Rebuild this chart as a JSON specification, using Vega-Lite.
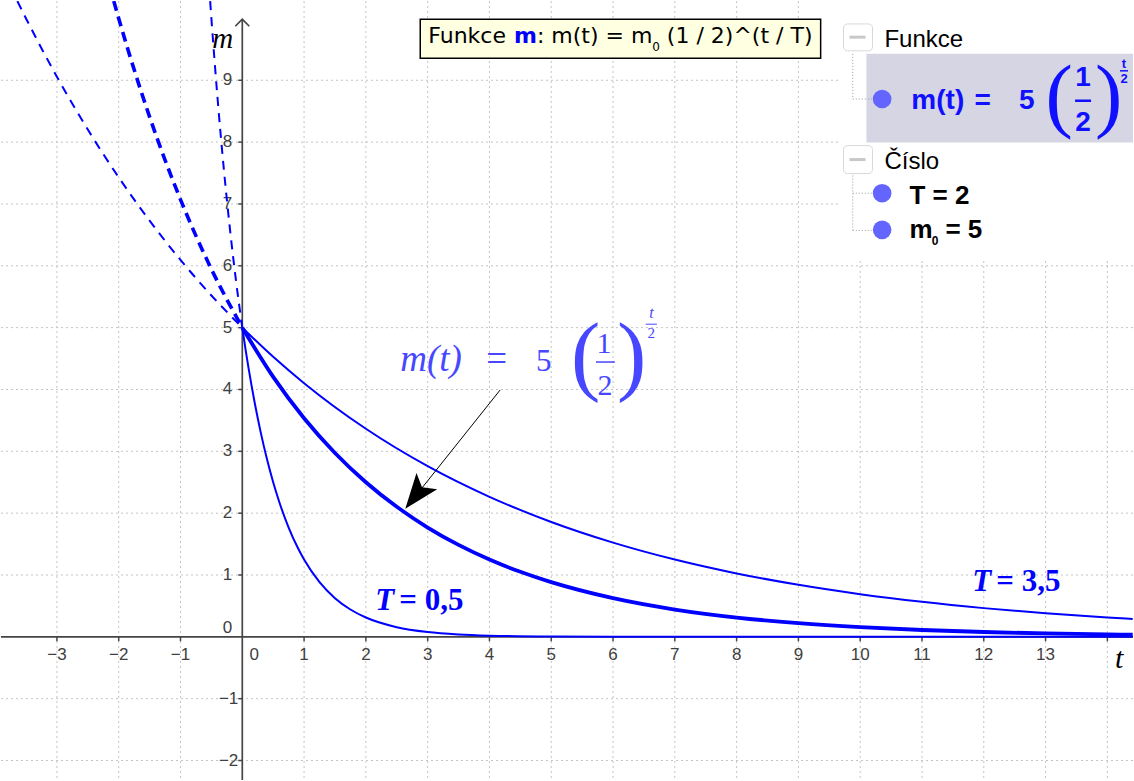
{
  "$schema": "https://vega.github.io/schema/vega-lite/v6.json",
  "width": 1134,
  "height": 781,
  "padding": 0,
  "autosize": {"type": "fit", "contains": "padding"},
  "background": "white",
  "config": {"view": {"stroke": null}, "axis": {"disable": true}, "legend": {"disable": true}},
  "datasets": {
    "curves": [
      {"T": 0.5, "seg": "solid", "t": 0, "m": 5},
      {"T": 0.5, "seg": "solid", "t": 0.05, "m": 4.6652},
      {"T": 0.5, "seg": "solid", "t": 0.1, "m": 4.3528},
      {"T": 0.5, "seg": "solid", "t": 0.15, "m": 4.0613},
      {"T": 0.5, "seg": "solid", "t": 0.2, "m": 3.7893},
      {"T": 0.5, "seg": "solid", "t": 0.3, "m": 3.2988},
      {"T": 0.5, "seg": "solid", "t": 0.4, "m": 2.8717},
      {"T": 0.5, "seg": "solid", "t": 0.5, "m": 2.5},
      {"T": 0.5, "seg": "solid", "t": 0.6, "m": 2.1764},
      {"T": 0.5, "seg": "solid", "t": 0.75, "m": 1.7678},
      {"T": 0.5, "seg": "solid", "t": 0.9, "m": 1.4359},
      {"T": 0.5, "seg": "solid", "t": 1, "m": 1.25},
      {"T": 0.5, "seg": "solid", "t": 1.25, "m": 0.8839},
      {"T": 0.5, "seg": "solid", "t": 1.5, "m": 0.625},
      {"T": 0.5, "seg": "solid", "t": 1.75, "m": 0.4419},
      {"T": 0.5, "seg": "solid", "t": 2, "m": 0.3125},
      {"T": 0.5, "seg": "solid", "t": 2.5, "m": 0.1563},
      {"T": 0.5, "seg": "solid", "t": 3, "m": 0.0781},
      {"T": 0.5, "seg": "solid", "t": 3.5, "m": 0.0391},
      {"T": 0.5, "seg": "solid", "t": 4, "m": 0.0195},
      {"T": 0.5, "seg": "solid", "t": 5, "m": 0.0049},
      {"T": 0.5, "seg": "solid", "t": 6, "m": 0.0012},
      {"T": 0.5, "seg": "solid", "t": 8, "m": 0.0001},
      {"T": 0.5, "seg": "solid", "t": 14.41, "m": 0},
      {"T": 0.5, "seg": "dash", "t": 0, "m": 5},
      {"T": 0.5, "seg": "dash", "t": -0.1, "m": 5.7435},
      {"T": 0.5, "seg": "dash", "t": -0.2, "m": 6.5975},
      {"T": 0.5, "seg": "dash", "t": -0.3, "m": 7.5786},
      {"T": 0.5, "seg": "dash", "t": -0.4, "m": 8.7055},
      {"T": 0.5, "seg": "dash", "t": -0.5, "m": 10},
      {"T": 0.5, "seg": "dash", "t": -0.52, "m": 10.28},
      {"T": 2, "seg": "solid", "t": 0, "m": 5},
      {"T": 2, "seg": "solid", "t": 0.5, "m": 4.2045},
      {"T": 2, "seg": "solid", "t": 1, "m": 3.5355},
      {"T": 2, "seg": "solid", "t": 1.5, "m": 2.973},
      {"T": 2, "seg": "solid", "t": 2, "m": 2.5},
      {"T": 2, "seg": "solid", "t": 2.5, "m": 2.1022},
      {"T": 2, "seg": "solid", "t": 3, "m": 1.7678},
      {"T": 2, "seg": "solid", "t": 3.5, "m": 1.4865},
      {"T": 2, "seg": "solid", "t": 4, "m": 1.25},
      {"T": 2, "seg": "solid", "t": 4.5, "m": 1.0511},
      {"T": 2, "seg": "solid", "t": 5, "m": 0.8839},
      {"T": 2, "seg": "solid", "t": 6, "m": 0.625},
      {"T": 2, "seg": "solid", "t": 7, "m": 0.4419},
      {"T": 2, "seg": "solid", "t": 8, "m": 0.3125},
      {"T": 2, "seg": "solid", "t": 9, "m": 0.221},
      {"T": 2, "seg": "solid", "t": 10, "m": 0.1563},
      {"T": 2, "seg": "solid", "t": 11, "m": 0.1105},
      {"T": 2, "seg": "solid", "t": 12, "m": 0.0781},
      {"T": 2, "seg": "solid", "t": 13, "m": 0.0552},
      {"T": 2, "seg": "solid", "t": 14, "m": 0.0391},
      {"T": 2, "seg": "solid", "t": 14.41, "m": 0.034},
      {"T": 2, "seg": "dash", "t": 0, "m": 5},
      {"T": 2, "seg": "dash", "t": -0.5, "m": 5.946},
      {"T": 2, "seg": "dash", "t": -1, "m": 7.0711},
      {"T": 2, "seg": "dash", "t": -1.5, "m": 8.409},
      {"T": 2, "seg": "dash", "t": -2, "m": 10},
      {"T": 2, "seg": "dash", "t": -2.08, "m": 10.28},
      {"T": 3.5, "seg": "solid", "t": 0, "m": 5},
      {"T": 3.5, "seg": "solid", "t": 0.5, "m": 4.5286},
      {"T": 3.5, "seg": "solid", "t": 1, "m": 4.1017},
      {"T": 3.5, "seg": "solid", "t": 2, "m": 3.3648},
      {"T": 3.5, "seg": "solid", "t": 3, "m": 2.7603},
      {"T": 3.5, "seg": "solid", "t": 4, "m": 2.2644},
      {"T": 3.5, "seg": "solid", "t": 5, "m": 1.8575},
      {"T": 3.5, "seg": "solid", "t": 6, "m": 1.5238},
      {"T": 3.5, "seg": "solid", "t": 7, "m": 1.25},
      {"T": 3.5, "seg": "solid", "t": 8, "m": 1.0254},
      {"T": 3.5, "seg": "solid", "t": 9, "m": 0.8412},
      {"T": 3.5, "seg": "solid", "t": 10, "m": 0.6901},
      {"T": 3.5, "seg": "solid", "t": 11, "m": 0.5661},
      {"T": 3.5, "seg": "solid", "t": 12, "m": 0.4644},
      {"T": 3.5, "seg": "solid", "t": 13, "m": 0.3809},
      {"T": 3.5, "seg": "solid", "t": 14, "m": 0.3125},
      {"T": 3.5, "seg": "solid", "t": 14.41, "m": 0.2884},
      {"T": 3.5, "seg": "dash", "t": 0, "m": 5},
      {"T": 3.5, "seg": "dash", "t": -0.5, "m": 5.5205},
      {"T": 3.5, "seg": "dash", "t": -1, "m": 6.095},
      {"T": 3.5, "seg": "dash", "t": -1.5, "m": 6.7295},
      {"T": 3.5, "seg": "dash", "t": -2, "m": 7.43},
      {"T": 3.5, "seg": "dash", "t": -2.5, "m": 8.2034},
      {"T": 3.5, "seg": "dash", "t": -3, "m": 9.0571},
      {"T": 3.5, "seg": "dash", "t": -3.5, "m": 10},
      {"T": 3.5, "seg": "dash", "t": -3.64, "m": 10.28}
    ],
    "xs": [
      {"v": -3, "lab": "−3"}, {"v": -2, "lab": "−2"}, {"v": -1, "lab": "−1"},
      {"v": 1, "lab": "1"}, {"v": 2, "lab": "2"}, {"v": 3, "lab": "3"}, {"v": 4, "lab": "4"},
      {"v": 5, "lab": "5"}, {"v": 6, "lab": "6"}, {"v": 7, "lab": "7"}, {"v": 8, "lab": "8"},
      {"v": 9, "lab": "9"}, {"v": 10, "lab": "10"}, {"v": 11, "lab": "11"}, {"v": 12, "lab": "12"},
      {"v": 13, "lab": "13"}, {"v": 14, "lab": ""}
    ],
    "ys": [
      {"v": -2, "lab": "−2"}, {"v": -1, "lab": "−1"}, {"v": 1, "lab": "1"}, {"v": 2, "lab": "2"},
      {"v": 3, "lab": "3"}, {"v": 4, "lab": "4"}, {"v": 5, "lab": "5"}, {"v": 6, "lab": "6"},
      {"v": 7, "lab": "7"}, {"v": 8, "lab": "8"}, {"v": 9, "lab": "9"}
    ]
  },
  "layer": [
    {
      "data": {"name": "xs"},
      "mark": {"type": "rule", "color": "#c4c4c4", "strokeWidth": 1, "strokeDash": [2, 3]},
      "encoding": {"x": {"field": "v", "type": "quantitative", "scale": {"domain": [-3.905, 14.415], "nice": false, "zero": false}}}
    },
    {
      "data": {"name": "ys"},
      "mark": {"type": "rule", "color": "#c4c4c4", "strokeWidth": 1, "strokeDash": [2, 3]},
      "encoding": {"y": {"field": "v", "type": "quantitative", "scale": {"domain": [-2.315, 10.282], "nice": false, "zero": false}}}
    },
    {
      "data": {"values": [{}]},
      "mark": {"type": "rule", "color": "#454545", "strokeWidth": 1.7},
      "encoding": {"y": {"datum": 0}}
    },
    {
      "data": {"values": [{}]},
      "mark": {"type": "rule", "color": "#454545", "strokeWidth": 1.7},
      "encoding": {"x": {"datum": 0}, "y": {"datum": -2.315}, "y2": {"datum": 9.987}}
    },
    {
      "data": {"values": [{}]},
      "mark": {"type": "point", "shape": "M-1,1L0,0L1,1", "size": 196, "filled": false, "color": "#454545", "strokeWidth": 1.7, "opacity": 1},
      "encoding": {"x": {"datum": 0}, "y": {"datum": 9.987}}
    },
    {
      "data": {"name": "xs"},
      "mark": {"type": "rule", "color": "#454545", "strokeWidth": 1.5},
      "encoding": {"x": {"field": "v", "type": "quantitative"}, "y": {"datum": 0}, "y2": {"datum": -0.07}}
    },
    {
      "data": {"name": "ys"},
      "mark": {"type": "rule", "color": "#454545", "strokeWidth": 1.5},
      "encoding": {"y": {"field": "v", "type": "quantitative"}, "x": {"datum": 0}, "x2": {"datum": -0.065}}
    },
    {
      "data": {"name": "xs"},
      "transform": [{"filter": "datum.lab != ''"}],
      "mark": {"type": "text", "font": "Liberation Sans", "fontSize": 17, "color": "#404040", "align": "center", "baseline": "alphabetic", "dy": 23},
      "encoding": {"x": {"field": "v", "type": "quantitative"}, "y": {"datum": 0}, "text": {"field": "lab"}}
    },
    {
      "data": {"name": "ys"},
      "transform": [{"filter": "datum.v > 0"}],
      "mark": {"type": "text", "font": "Liberation Sans", "fontSize": 17, "color": "#404040", "align": "right", "baseline": "middle", "dx": -10},
      "encoding": {"y": {"field": "v", "type": "quantitative"}, "x": {"datum": 0}, "text": {"field": "lab"}}
    },
    {
      "data": {"name": "ys"},
      "transform": [{"filter": "datum.v < 0"}],
      "mark": {"type": "text", "font": "Liberation Sans", "fontSize": 17, "color": "#404040", "align": "right", "baseline": "middle", "dx": -4},
      "encoding": {"y": {"field": "v", "type": "quantitative"}, "x": {"datum": 0}, "text": {"field": "lab"}}
    },
    {
      "data": {"values": [{}]},
      "mark": {"type": "text", "text": "0", "font": "Liberation Sans", "fontSize": 17, "color": "#404040", "align": "center", "baseline": "alphabetic", "dx": 12, "dy": 23},
      "encoding": {"x": {"datum": 0}, "y": {"datum": 0}}
    },
    {
      "data": {"values": [{}]},
      "mark": {"type": "text", "text": "0", "font": "Liberation Sans", "fontSize": 17, "color": "#404040", "align": "right", "baseline": "middle", "dx": -10, "dy": -9},
      "encoding": {"x": {"datum": 0}, "y": {"datum": 0}}
    },
    {
      "data": {"name": "curves"},
      "transform": [{"filter": "datum.seg == 'dash' && datum.T != 2"}],
      "mark": {"type": "line", "color": "#0000ff", "strokeWidth": 2, "strokeDash": [9, 7], "interpolate": "monotone", "clip": true},
      "encoding": {"x": {"field": "t", "type": "quantitative"}, "y": {"field": "m", "type": "quantitative"}, "detail": {"field": "T", "type": "nominal"}}
    },
    {
      "data": {"name": "curves"},
      "transform": [{"filter": "datum.seg == 'dash' && datum.T == 2"}],
      "mark": {"type": "line", "color": "#0000ff", "strokeWidth": 3.6, "strokeDash": [10, 6], "interpolate": "monotone", "clip": true},
      "encoding": {"x": {"field": "t", "type": "quantitative"}, "y": {"field": "m", "type": "quantitative"}, "detail": {"field": "T", "type": "nominal"}}
    },
    {
      "data": {"name": "curves"},
      "transform": [{"filter": "datum.seg == 'solid' && datum.T != 2"}],
      "mark": {"type": "line", "color": "#0000ff", "strokeWidth": 2, "interpolate": "monotone", "clip": true},
      "encoding": {"x": {"field": "t", "type": "quantitative"}, "y": {"field": "m", "type": "quantitative"}, "detail": {"field": "T", "type": "nominal"}}
    },
    {
      "data": {"name": "curves"},
      "transform": [{"filter": "datum.seg == 'solid' && datum.T == 2"}],
      "mark": {"type": "line", "color": "#0000ff", "strokeWidth": 3.8, "interpolate": "monotone", "clip": true},
      "encoding": {"x": {"field": "t", "type": "quantitative"}, "y": {"field": "m", "type": "quantitative"}, "detail": {"field": "T", "type": "nominal"}}
    },
    {
      "data": {"values": [{}]},
      "mark": {"type": "rule", "color": "#000000", "strokeWidth": 1},
      "encoding": {"x": {"datum": 4.173}, "y": {"datum": 3.992}, "x2": {"datum": 2.75}, "y2": {"datum": 2.21}}
    },
    {
      "data": {"values": [{}]},
      "mark": {"type": "point", "shape": "M0,0L0.75,2L0,1.55L-0.75,2Z", "size": 1225, "angle": 218, "filled": true, "color": "#000000", "opacity": 1, "strokeWidth": 0},
      "encoding": {"x": {"datum": 2.638}, "y": {"datum": 2.073}}
    },
    {
      "data": {"values": [{}]},
      "mark": {"type": "text", "text": "m(t)", "font": "Liberation Serif", "fontStyle": "italic", "fontSize": 37, "color": "#4747ff", "align": "left", "baseline": "alphabetic"},
      "encoding": {"x": {"datum": 2.557}, "y": {"datum": 4.298}}
    },
    {
      "data": {"values": [{}]},
      "mark": {"type": "text", "text": "=", "font": "Liberation Serif", "fontSize": 37, "color": "#4747ff", "align": "left", "baseline": "alphabetic"},
      "encoding": {"x": {"datum": 3.95}, "y": {"datum": 4.298}}
    },
    {
      "data": {"values": [{}]},
      "mark": {"type": "text", "text": "5", "font": "Liberation Serif", "fontSize": 31, "color": "#4747ff", "align": "left", "baseline": "alphabetic"},
      "encoding": {"x": {"datum": 4.754}, "y": {"datum": 4.298}}
    },
    {
      "data": {"values": [{}]},
      "mark": {"type": "text", "text": "(", "font": "Liberation Serif", "fontSize": 88, "color": "#4747ff", "align": "left", "baseline": "alphabetic"},
      "encoding": {"x": {"datum": 5.32}, "y": {"datum": 4.089}}
    },
    {
      "data": {"values": [{}]},
      "mark": {"type": "text", "text": ")", "font": "Liberation Serif", "fontSize": 88, "color": "#4747ff", "align": "left", "baseline": "alphabetic"},
      "encoding": {"x": {"datum": 6.063}, "y": {"datum": 4.089}}
    },
    {
      "data": {"values": [{}]},
      "mark": {"type": "text", "text": "1", "font": "Liberation Serif", "fontSize": 30, "color": "#4747ff", "align": "center", "baseline": "alphabetic"},
      "encoding": {"x": {"datum": 5.853}, "y": {"datum": 4.589}}
    },
    {
      "data": {"values": [{}]},
      "mark": {"type": "rule", "color": "#4747ff", "strokeWidth": 1.5},
      "encoding": {"x": {"datum": 5.724}, "x2": {"datum": 6.03}, "y": {"datum": 4.444}}
    },
    {
      "data": {"values": [{}]},
      "mark": {"type": "text", "text": "2", "font": "Liberation Serif", "fontSize": 30, "color": "#4747ff", "align": "center", "baseline": "alphabetic"},
      "encoding": {"x": {"datum": 5.869}, "y": {"datum": 3.911}}
    },
    {
      "data": {"values": [{}]},
      "mark": {"type": "text", "text": "t", "font": "Liberation Serif", "fontStyle": "italic", "fontSize": 16, "color": "#4747ff", "align": "center", "baseline": "alphabetic"},
      "encoding": {"x": {"datum": 6.62}, "y": {"datum": 5.153}}
    },
    {
      "data": {"values": [{}]},
      "mark": {"type": "rule", "color": "#4747ff", "strokeWidth": 1},
      "encoding": {"x": {"datum": 6.53}, "x2": {"datum": 6.71}, "y": {"datum": 5.056}}
    },
    {
      "data": {"values": [{}]},
      "mark": {"type": "text", "text": "2", "font": "Liberation Serif", "fontSize": 15, "color": "#4747ff", "align": "center", "baseline": "alphabetic"},
      "encoding": {"x": {"datum": 6.62}, "y": {"datum": 4.831}}
    },
    {
      "data": {"values": [{}]},
      "mark": {"type": "text", "text": "T", "font": "Liberation Serif", "fontStyle": "italic", "fontWeight": "bold", "fontSize": 31, "color": "#0000ff", "align": "left", "baseline": "alphabetic"},
      "encoding": {"x": {"datum": 2.152}, "y": {"datum": 0.427}}
    },
    {
      "data": {"values": [{}]},
      "mark": {"type": "text", "text": "= 0,5", "font": "Liberation Serif", "fontWeight": "bold", "fontSize": 31, "color": "#0000ff", "align": "left", "baseline": "alphabetic"},
      "encoding": {"x": {"datum": 2.541}, "y": {"datum": 0.427}}
    },
    {
      "data": {"values": [{}]},
      "mark": {"type": "text", "text": "T", "font": "Liberation Serif", "fontStyle": "italic", "fontWeight": "bold", "fontSize": 31, "color": "#0000ff", "align": "left", "baseline": "alphabetic"},
      "encoding": {"x": {"datum": 11.814}, "y": {"datum": 0.734}}
    },
    {
      "data": {"values": [{}]},
      "mark": {"type": "text", "text": "= 3,5", "font": "Liberation Serif", "fontWeight": "bold", "fontSize": 31, "color": "#0000ff", "align": "left", "baseline": "alphabetic"},
      "encoding": {"x": {"datum": 12.202}, "y": {"datum": 0.734}}
    },
    {
      "data": {"values": [{}]},
      "mark": {"type": "text", "text": "m", "font": "Liberation Serif", "fontStyle": "italic", "fontSize": 29, "color": "#000000", "align": "left", "baseline": "alphabetic", "dx": -30},
      "encoding": {"x": {"datum": 0}, "y": {"datum": 9.524}}
    },
    {
      "data": {"values": [{}]},
      "mark": {"type": "text", "text": "t", "font": "Liberation Serif", "fontStyle": "italic", "fontSize": 30, "color": "#000000", "align": "left", "baseline": "alphabetic"},
      "encoding": {"x": {"datum": 14.125}, "y": {"datum": -0.508}}
    },
    {
      "data": {"values": [{}]},
      "mark": {"type": "rect", "fill": "#ffffe1", "stroke": "#000000", "strokeWidth": 1.5},
      "encoding": {"x": {"datum": 2.88}, "x2": {"datum": 9.36}, "y": {"datum": 9.987}, "y2": {"datum": 9.358}}
    },
    {
      "data": {"values": [{}]},
      "mark": {"type": "text", "text": "Funkce", "font": "DejaVu Sans", "fontSize": 22, "color": "#000000", "align": "left", "baseline": "alphabetic"},
      "encoding": {"x": {"datum": 3.01}, "y": {"datum": 9.6}}
    },
    {
      "data": {"values": [{}]},
      "mark": {"type": "text", "text": "m", "font": "DejaVu Sans", "fontWeight": "bold", "fontSize": 22, "color": "#0000ff", "align": "left", "baseline": "alphabetic"},
      "encoding": {"x": {"datum": 4.397}, "y": {"datum": 9.6}}
    },
    {
      "data": {"values": [{}]},
      "mark": {"type": "text", "text": ": m(t) = m", "font": "DejaVu Sans", "fontSize": 22, "color": "#000000", "align": "left", "baseline": "alphabetic"},
      "encoding": {"x": {"datum": 4.768}, "y": {"datum": 9.6}}
    },
    {
      "data": {"values": [{}]},
      "mark": {"type": "text", "text": "0", "font": "DejaVu Sans", "fontSize": 12, "color": "#000000", "align": "left", "baseline": "alphabetic"},
      "encoding": {"x": {"datum": 6.634}, "y": {"datum": 9.48}}
    },
    {
      "data": {"values": [{}]},
      "mark": {"type": "text", "text": "(1 / 2)^(t / T)", "font": "DejaVu Sans", "fontSize": 22, "color": "#000000", "align": "left", "baseline": "alphabetic"},
      "encoding": {"x": {"datum": 6.871}, "y": {"datum": 9.6}}
    },
    {
      "data": {"values": [{}]},
      "mark": {"type": "rect", "fill": "#ffffff", "strokeWidth": 0},
      "encoding": {"x": {"datum": 9.666}, "x2": {"datum": 14.415}, "y": {"datum": 10.282}, "y2": {"datum": 6.12}}
    },
    {
      "data": {"values": [{}]},
      "mark": {"type": "rect", "fill": "#d5d5e3", "strokeWidth": 0},
      "encoding": {"x": {"datum": 10.101}, "x2": {"datum": 14.415}, "y": {"datum": 9.427}, "y2": {"datum": 7.992}}
    },
    {
      "data": {"values": [{}]},
      "mark": {"type": "rect", "fill": "#ffffff", "stroke": "#d8d8d8", "strokeWidth": 1, "cornerRadius": 4},
      "encoding": {"x": {"datum": 9.73}, "x2": {"datum": 10.199}, "y": {"datum": 9.911}, "y2": {"datum": 9.476}}
    },
    {
      "data": {"values": [{}]},
      "mark": {"type": "rule", "color": "#c8c8c8", "strokeWidth": 3},
      "encoding": {"x": {"datum": 9.827}, "x2": {"datum": 10.086}, "y": {"datum": 9.697}}
    },
    {
      "data": {"values": [{}]},
      "mark": {"type": "rect", "fill": "#ffffff", "stroke": "#d8d8d8", "strokeWidth": 1, "cornerRadius": 4},
      "encoding": {"x": {"datum": 9.73}, "x2": {"datum": 10.199}, "y": {"datum": 7.944}, "y2": {"datum": 7.492}}
    },
    {
      "data": {"values": [{}]},
      "mark": {"type": "rule", "color": "#c8c8c8", "strokeWidth": 3},
      "encoding": {"x": {"datum": 9.827}, "x2": {"datum": 10.086}, "y": {"datum": 7.718}}
    },
    {
      "data": {"values": [{}]},
      "mark": {"type": "text", "text": "Funkce", "font": "Liberation Sans", "fontSize": 24, "color": "#000000", "align": "left", "baseline": "alphabetic"},
      "encoding": {"x": {"datum": 10.392}, "y": {"datum": 9.54}}
    },
    {
      "data": {"values": [{}]},
      "mark": {"type": "text", "text": "Číslo", "font": "Liberation Sans", "fontSize": 24, "color": "#000000", "align": "left", "baseline": "alphabetic"},
      "encoding": {"x": {"datum": 10.392}, "y": {"datum": 7.573}}
    },
    {
      "data": {"values": [{}]},
      "mark": {"type": "rule", "color": "#9a9a9a", "strokeWidth": 1, "strokeDash": [1, 2]},
      "encoding": {"x": {"datum": 9.88}, "y": {"datum": 9.427}, "y2": {"datum": 8.697}}
    },
    {
      "data": {"values": [{}]},
      "mark": {"type": "rule", "color": "#9a9a9a", "strokeWidth": 1, "strokeDash": [1, 2]},
      "encoding": {"x": {"datum": 9.88}, "x2": {"datum": 10.199}, "y": {"datum": 8.697}}
    },
    {
      "data": {"values": [{}]},
      "mark": {"type": "rule", "color": "#9a9a9a", "strokeWidth": 1, "strokeDash": [1, 2]},
      "encoding": {"x": {"datum": 9.88}, "y": {"datum": 7.46}, "y2": {"datum": 6.573}}
    },
    {
      "data": {"values": [{}]},
      "mark": {"type": "rule", "color": "#9a9a9a", "strokeWidth": 1, "strokeDash": [1, 2]},
      "encoding": {"x": {"datum": 9.88}, "x2": {"datum": 10.199}, "y": {"datum": 7.174}}
    },
    {
      "data": {"values": [{}]},
      "mark": {"type": "rule", "color": "#9a9a9a", "strokeWidth": 1, "strokeDash": [1, 2]},
      "encoding": {"x": {"datum": 9.88}, "x2": {"datum": 10.199}, "y": {"datum": 6.573}}
    },
    {
      "data": {"values": [{"k": "a", "mm": 8.697}, {"k": "b", "mm": 7.174}, {"k": "c", "mm": 6.581}]},
      "mark": {"type": "point", "shape": "circle", "size": 346, "filled": true, "color": "#6464ff", "opacity": 1, "strokeWidth": 0},
      "encoding": {"x": {"datum": 10.355}, "y": {"field": "mm", "type": "quantitative"}}
    },
    {
      "data": {"values": [{}]},
      "mark": {"type": "text", "text": "m(t)", "font": "Liberation Sans", "fontWeight": "bold", "fontSize": 28, "color": "#1010ff", "align": "left", "baseline": "alphabetic"},
      "encoding": {"x": {"datum": 10.828}, "y": {"datum": 8.54}}
    },
    {
      "data": {"values": [{}]},
      "mark": {"type": "text", "text": "=", "font": "Liberation Sans", "fontWeight": "bold", "fontSize": 28, "color": "#1010ff", "align": "left", "baseline": "alphabetic"},
      "encoding": {"x": {"datum": 11.85}, "y": {"datum": 8.54}}
    },
    {
      "data": {"values": [{}]},
      "mark": {"type": "text", "text": "5", "font": "Liberation Sans", "fontWeight": "bold", "fontSize": 28, "color": "#1010ff", "align": "left", "baseline": "alphabetic"},
      "encoding": {"x": {"datum": 12.57}, "y": {"datum": 8.54}}
    },
    {
      "data": {"values": [{}]},
      "mark": {"type": "text", "text": "(", "font": "Liberation Serif", "fontSize": 82, "color": "#1010ff", "align": "left", "baseline": "alphabetic"},
      "encoding": {"x": {"datum": 13.0}, "y": {"datum": 8.33}}
    },
    {
      "data": {"values": [{}]},
      "mark": {"type": "text", "text": ")", "font": "Liberation Serif", "fontSize": 82, "color": "#1010ff", "align": "left", "baseline": "alphabetic"},
      "encoding": {"x": {"datum": 13.8}, "y": {"datum": 8.33}}
    },
    {
      "data": {"values": [{}]},
      "mark": {"type": "text", "text": "1", "font": "Liberation Sans", "fontWeight": "bold", "fontSize": 28, "color": "#1010ff", "align": "center", "baseline": "alphabetic"},
      "encoding": {"x": {"datum": 13.607}, "y": {"datum": 8.911}}
    },
    {
      "data": {"values": [{}]},
      "mark": {"type": "rule", "color": "#1010ff", "strokeWidth": 2.5},
      "encoding": {"x": {"datum": 13.478}, "x2": {"datum": 13.736}, "y": {"datum": 8.669}}
    },
    {
      "data": {"values": [{}]},
      "mark": {"type": "text", "text": "2", "font": "Liberation Sans", "fontWeight": "bold", "fontSize": 28, "color": "#1010ff", "align": "center", "baseline": "alphabetic"},
      "encoding": {"x": {"datum": 13.607}, "y": {"datum": 8.185}}
    },
    {
      "data": {"values": [{}]},
      "mark": {"type": "text", "text": "t", "font": "Liberation Sans", "fontWeight": "bold", "fontSize": 13, "color": "#1010ff", "align": "center", "baseline": "alphabetic"},
      "encoding": {"x": {"datum": 14.27}, "y": {"datum": 9.202}}
    },
    {
      "data": {"values": [{}]},
      "mark": {"type": "rule", "color": "#1010ff", "strokeWidth": 1.5},
      "encoding": {"x": {"datum": 14.205}, "x2": {"datum": 14.334}, "y": {"datum": 9.153}}
    },
    {
      "data": {"values": [{}]},
      "mark": {"type": "text", "text": "2", "font": "Liberation Sans", "fontWeight": "bold", "fontSize": 13, "color": "#1010ff", "align": "center", "baseline": "alphabetic"},
      "encoding": {"x": {"datum": 14.27}, "y": {"datum": 8.96}}
    },
    {
      "data": {"values": [{}]},
      "mark": {"type": "text", "text": "T = 2", "font": "Liberation Sans", "fontWeight": "bold", "fontSize": 26, "color": "#000000", "align": "left", "baseline": "alphabetic"},
      "encoding": {"x": {"datum": 10.796}, "y": {"datum": 7.003}}
    },
    {
      "data": {"values": [{}]},
      "mark": {"type": "text", "text": "m", "font": "Liberation Sans", "fontWeight": "bold", "fontSize": 26, "color": "#000000", "align": "left", "baseline": "alphabetic"},
      "encoding": {"x": {"datum": 10.796}, "y": {"datum": 6.455}}
    },
    {
      "data": {"values": [{}]},
      "mark": {"type": "text", "text": "0", "font": "Liberation Sans", "fontWeight": "bold", "fontSize": 12, "color": "#000000", "align": "left", "baseline": "alphabetic"},
      "encoding": {"x": {"datum": 11.16}, "y": {"datum": 6.331}}
    },
    {
      "data": {"values": [{}]},
      "mark": {"type": "text", "text": "= 5", "font": "Liberation Sans", "fontWeight": "bold", "fontSize": 26, "color": "#000000", "align": "left", "baseline": "alphabetic"},
      "encoding": {"x": {"datum": 11.38}, "y": {"datum": 6.455}}
    }
  ]
}
